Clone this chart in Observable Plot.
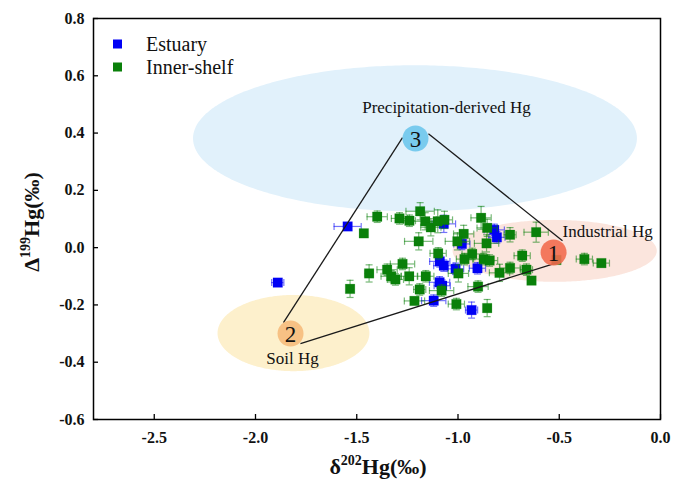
<!DOCTYPE html>
<html><head><meta charset="utf-8">
<script src="https://cdn.jsdelivr.net/npm/d3@7"></script>
<script src="https://cdn.jsdelivr.net/npm/@observablehq/plot@0.6"></script>
<style>body{margin:0;background:#fff}#chart{width:688px;height:485px}#chart svg text{font-family:'Liberation Serif','Times New Roman',serif !important}</style>
</head><body><div id="chart"></div>
<script>
// ---- data ----
const xTicks = [-2.5, -2.0, -1.5, -1.0, -0.5, 0.0];
const yTicks = [-0.6, -0.4, -0.2, 0.0, 0.2, 0.4, 0.6, 0.8];
const seriesNames = ["Estuary", "Inner-shelf"];

const estuaryX  = [-1.89, -1.545, -1.07, -0.981, -0.821, -0.808, -1.09, -1.07, -1.012, -0.904, -1.091, -1.078, -1.12, -0.933];
const estuaryY  = [-0.122, 0.074, 0.083, 0.013, 0.062, 0.036, -0.048, -0.063, -0.074, -0.072, -0.121, -0.133, -0.185, -0.218];
const estuaryXe = [0.03, 0.067, 0.058, 0.04, 0.05, 0.04, 0.05, 0.05, 0.04, 0.04, 0.05, 0.04, 0.06, 0.03];
const estuaryYe = [0.01, 0.01, 0.03, 0.02, 0.02, 0.02, 0.02, 0.02, 0.02, 0.02, 0.02, 0.02, 0.02, 0.028];

const shelfX  = [-1.399, -1.289, -1.240, -1.187, -1.162, -1.134, -1.100, -1.067, -1.465, -1.194, -0.972, -1.003, -0.886, -0.856, -0.859, -0.743, -1.098, -0.930, -0.968, -0.873, -0.844, -0.795, -0.743, -0.683, -1.274, -1.350, -1.439, -1.330, -1.309, -1.241, -1.159, -0.998, -1.533, -1.189, -1.081, -0.901, -1.215, -1.008, -0.856, -0.614, -0.662, -0.637, -0.514, -0.376, -0.292];
const shelfY  = [0.108, 0.102, 0.094, 0.127, 0.092, 0.071, 0.092, 0.097, 0.050, 0.022, 0.048, 0.022, 0.104, 0.069, 0.015, 0.045, -0.020, -0.022, -0.040, -0.040, -0.045, -0.088, -0.071, -0.028, -0.057, -0.077, -0.090, -0.100, -0.111, -0.100, -0.100, -0.090, -0.144, -0.146, -0.150, -0.136, -0.186, -0.197, -0.211, 0.054, -0.077, -0.115, -0.043, -0.040, -0.054];
const shelfXe = [0.05, 0.04, 0.03, 0.07, 0.06, 0.05, 0.05, 0.04, 0.01, 0.07, 0.05, 0.06, 0.05, 0.05, 0.06, 0.03, 0.04, 0.05, 0.04, 0.05, 0.04, 0.05, 0.05, 0.04, 0.06, 0.05, 0.02, 0.05, 0.04, 0.04, 0.04, 0.05, 0.01, 0.03, 0.06, 0.05, 0.05, 0.04, 0.01, 0.06, 0.03, 0.01, 0.02, 0.04, 0.04];
const shelfYe = [0.02, 0.02, 0.02, 0.03, 0.03, 0.03, 0.04, 0.03, 0.01, 0.03, 0.03, 0.03, 0.04, 0.03, 0.03, 0.025, 0.02, 0.02, 0.02, 0.02, 0.02, 0.03, 0.02, 0.02, 0.02, 0.02, 0.03, 0.02, 0.02, 0.03, 0.02, 0.03, 0.03, 0.02, 0.02, 0.02, 0.01, 0.02, 0.03, 0.035, 0.02, 0.01, 0.01, 0.02, 0.01];

// source end-member ellipses
const regionNames = ["Precipitation-derived Hg", "Industrial Hg", "Soil Hg"];
const regionCx = [-1.21, -0.52, -1.81];
const regionCy = [0.38, -0.013, -0.30];
const regionRx = [1.096, 0.504, 0.375];
const regionRy = [0.255, 0.108, 0.133];
const regionColors = ["#e1f1fb", "#fbe5dd", "#fdf0cc"];
const labelX = [-1.057, -0.484, -1.817];
const labelY = [0.489, 0.056, -0.388];
const labelAnchors = ["middle", "start", "middle"];

// end-member markers
const vertexLabels = ["1", "2", "3"];
const vertexX = [-0.528, -1.827, -1.210];
const vertexY = [-0.017, -0.300, 0.381];
const vertexColors = ["#f26b4f", "#f6bb7c", "#6ec6ec"];

// mixing triangle sides
const sideX1 = [-1.274, -1.146, -1.778];
const sideY1 = [0.384, 0.398, -0.335];
const sideX2 = [-1.862, -0.484, -0.509];
const sideY2 = [-0.262, 0.024, -0.052];

// ---- build ----
const W = 688, H = 485, mL = 93, mR = 28, mT = 18, mB = 66;
const plotW = W - mL - mR, plotH = H - mT - mB;
const serif = "'Liberation Serif', 'Times New Roman', serif";
const mk = (xs, ys, xe, ye) => xs.map((x, i) => ({x, y: ys[i], xe: xe[i], ye: ye[i]}));
const estuary = mk(estuaryX, estuaryY, estuaryXe, estuaryYe);
const shelf = mk(shelfX, shelfY, shelfXe, shelfYe);
const ellipse = i => d3.range(0, 181).map(k => {
  const t = Math.PI * k / 180;
  return {x: regionCx[i] + regionRx[i] * Math.cos(t), y1: regionCy[i] - regionRy[i] * Math.sin(t), y2: regionCy[i] + regionRy[i] * Math.sin(t)};
});
const capV = {draw(c, s) { const r = Math.sqrt(s / Math.PI); c.moveTo(0, -r); c.lineTo(0, r); }};
const capH = {draw(c, s) { const r = Math.sqrt(s / Math.PI); c.moveTo(-r, 0); c.lineTo(r, 0); }};
const eb = {strokeOpacity: 0.55, strokeWidth: 1.2};
const errMarks = (pts, col) => [
  Plot.ruleY(pts, {y: "y", x1: d => d.x - d.xe, x2: d => d.x + d.xe, stroke: col, ...eb}),
  Plot.ruleX(pts, {x: "x", y1: d => d.y - d.ye, y2: d => d.y + d.ye, stroke: col, ...eb}),
  Plot.dot(pts, {x: d => d.x - d.xe, y: "y", symbol: capV, r: 3.5, fill: "none", stroke: col, ...eb}),
  Plot.dot(pts, {x: d => d.x + d.xe, y: "y", symbol: capV, r: 3.5, fill: "none", stroke: col, ...eb}),
  Plot.dot(pts, {x: "x", y: d => d.y - d.ye, symbol: capH, r: 3.5, fill: "none", stroke: col, ...eb}),
  Plot.dot(pts, {x: "x", y: d => d.y + d.ye, symbol: capH, r: 3.5, fill: "none", stroke: col, ...eb}),
  Plot.dot(pts, {x: "x", y: "y", symbol: "square", r: 5.4, fill: col, stroke: col, strokeOpacity: 0.3, strokeWidth: 0.6})
];
const blue = "#0000f5", green = "#0a800a";
const legendCols = [blue, green];
const sides = sideX1.map((x1, i) => ({x1, y1: sideY1[i], x2: sideX2[i], y2: sideY2[i]}));
const verts = vertexLabels.map((t, i) => ({t, x: vertexX[i], y: vertexY[i], c: vertexColors[i]}));

const chart = Plot.plot({
  width: W, height: H, marginLeft: mL, marginRight: mR, marginTop: mT, marginBottom: mB,
  style: {fontFamily: serif, background: "#fff"},
  x: {domain: [-2.8, 0]},
  y: {domain: [-0.6, 0.8]},
  marks: [
    ...[0, 1, 2].map(i => Plot.areaY(ellipse(i), {x: "x", y1: "y1", y2: "y2", fill: regionColors[i]})),
    ...errMarks(estuary, blue),
    ...errMarks(shelf, green),
    Plot.link(sides, {x1: "x1", y1: "y1", x2: "x2", y2: "y2", stroke: "#1a1a1a", strokeWidth: 1.3}),
    Plot.dot(verts, {x: "x", y: "y", r: 13, fill: "c", fillOpacity: 0.9}),
    Plot.text(verts, {x: "x", y: "y", text: "t", fontSize: 23, fill: "#111", dy: 1, fontFamily: serif}),
    ...[0, 1, 2].map(i => Plot.text([regionNames[i]], {x: () => labelX[i], y: () => labelY[i], text: d => d, textAnchor: labelAnchors[i], fontSize: 17, fill: "#111", fontFamily: serif})),
    Plot.frame({stroke: "#000", strokeWidth: 1.5}),
    Plot.tickX(xTicks, {x: d => d, insetTop: plotH - 5, stroke: "#000", strokeWidth: 1.3}),
    Plot.tickY(yTicks, {y: d => d, insetRight: plotW - 5, stroke: "#000", strokeWidth: 1.3}),
    Plot.axisX(xTicks, {tickSize: 0, tickPadding: 12, tickFormat: d => d.toFixed(1), fontSize: 16, fontWeight: "bold", fontFamily: serif, fill: "#111", label: null}),
    Plot.axisY(yTicks, {tickSize: 0, tickPadding: 9, tickFormat: d => d.toFixed(1), fontSize: 16, fontWeight: "bold", fontFamily: serif, fill: "#111", label: null})
  ]
});
document.getElementById("chart").appendChild(chart);

// legend and axis titles drawn on top of the Plot SVG
const svg = d3.select(chart);
const lg = svg.append("g").attr("font-family", serif).attr("text-anchor", "start");
seriesNames.forEach((name, i) => {
  const yy = 44 + i * 23;
  lg.append("rect").attr("x", 113).attr("y", yy - 4.5).attr("width", 9).attr("height", 9).attr("fill", legendCols[i]);
  lg.append("text").attr("x", 146).attr("y", yy).attr("dy", "0.35em").attr("font-size", 20).attr("fill", "#111").text(name);
});
const xt = svg.append("text").attr("x", 378).attr("y", 474).attr("text-anchor", "middle").attr("font-family", serif)
  .attr("font-size", 22).attr("font-weight", "bold").attr("fill", "#111");
xt.append("tspan").text("δ");
xt.append("tspan").attr("dy", -9).attr("font-size", 14).text("202");
xt.append("tspan").attr("dy", 9).text("Hg(‰)");
const yt = svg.append("text").attr("transform", "translate(39,222) rotate(-90)").attr("text-anchor", "middle").attr("font-family", serif)
  .attr("font-size", 22).attr("font-weight", "bold").attr("fill", "#111");
yt.append("tspan").text("Δ");
yt.append("tspan").attr("dy", -9).attr("font-size", 14).text("199");
yt.append("tspan").attr("dy", 9).text("Hg(‰)");
</script>
</body></html>
